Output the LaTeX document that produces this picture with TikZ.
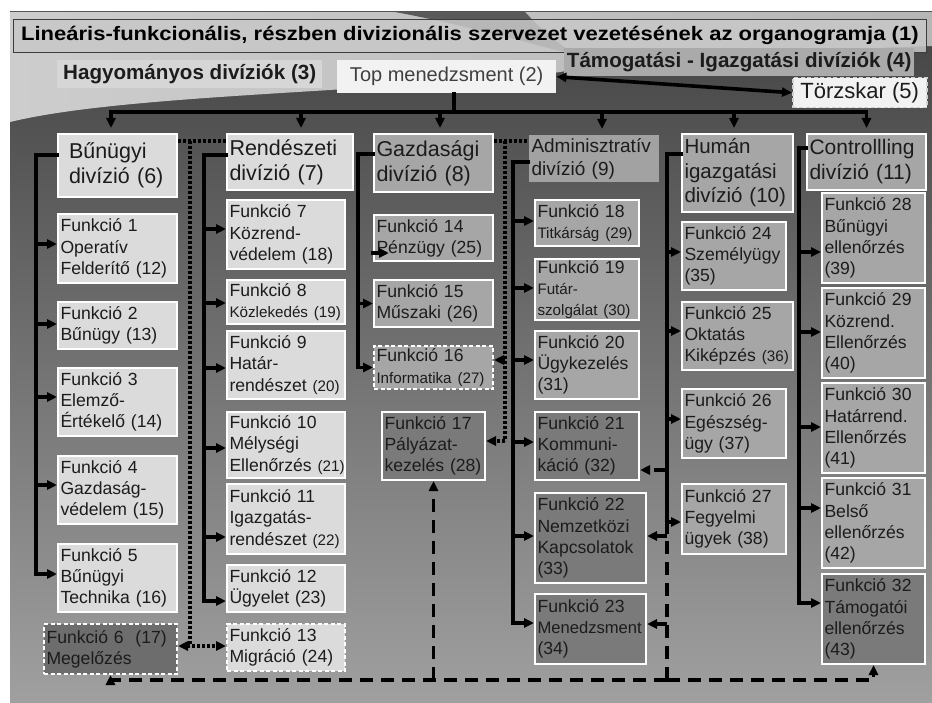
\documentclass[tikz,border=0pt]{standalone}
\usepackage{fontspec}
\setmainfont{Liberation Sans}
\usepackage{graphicx}
\usetikzlibrary{arrows.meta,calc}
\definecolor{lg}{HTML}{DBDBDB}
\definecolor{mg}{HTML}{A6A6A6}
\definecolor{admbg}{HTML}{A2A2A2}
\definecolor{dg}{HTML}{7A7A7A}
\definecolor{dk}{HTML}{6D6D6D}
\definecolor{tx}{HTML}{1C1C1C}
\definecolor{bgtop}{HTML}{434343}
\definecolor{bgbot}{HTML}{A0A0A0}
\definecolor{bglight}{HTML}{B6B6B6}
\definecolor{bglighttwo}{HTML}{CDCDCD}
\definecolor{swoosh}{HTML}{5A5A5A}
\definecolor{titlebg}{HTML}{C8C8C8}
\definecolor{titlebdr}{HTML}{3C3C3C}
\definecolor{tambg}{HTML}{AAAAAA}
\definecolor{hagbg}{HTML}{D6D6D6}
\definecolor{topbg}{HTML}{F2F2F2}
\definecolor{toptx}{HTML}{404040}
\definecolor{tkbdr}{HTML}{D0D0D0}
\newcommand\fnA{\fontsize{17.6pt}{21.3pt}\selectfont}
\newcommand\fnS{\fontsize{15.2pt}{18pt}\selectfont}
\newcommand\fnM{\fontsize{16.6pt}{20pt}\selectfont}
\newcommand\fnD{\fontsize{21.5pt}{25pt}\selectfont}
\newcommand\fnH{\fontsize{20.5pt}{24.5pt}\selectfont}
\newcommand\fnAd{\fontsize{19pt}{23pt}\selectfont}
% box: name, x1, y1, x2, y2, style, text
\newcommand\bx[7]{%
  \pgfmathsetmacro\bxw{#4-#2}\pgfmathsetmacro\bxh{#5-#3}\pgfmathsetmacro\bxt{#4-#2-5}%
  \node[box,#6,minimum width=\bxw pt,minimum height=\bxh pt,text width=\bxt pt] (#1) at (#2,#3) {#7};}
% branch arrow: spine, node, yshift, extra style
\newcommand\brr[4]{\path ([yshift=#3pt]#2.west) coordinate (#2w); \draw[ln,arr,#4] (#1 |- #2w) -- (#2w);}
\begin{document}
\begin{tikzpicture}[x=1pt,y=-1pt,
  box/.style={draw=white,line width=2pt,anchor=north west,inner xsep=2.5pt,inner ysep=0pt,align=left,text=tx,font=\fnA},
  dbox/.style={dash pattern=on 4pt off 2.5pt},
  hdr/.style={anchor=north west,inner sep=0pt,text=tx},
  ln/.style={line width=3.2pt,line cap=rect,line join=miter},
  arr/.style={-{Triangle[length=10pt,width=9pt]}},
  barr/.style={{Triangle[length=10pt,width=9pt]}-{Triangle[length=10pt,width=9pt]}},
  dot/.style={line width=3.2pt,dash pattern=on 3pt off 2pt},
  dsh/.style={line width=3.2pt,dash pattern=on 13pt off 8pt},
]
% background
\fill[white] (0,0) rectangle (932,703);
\shade[top color=bgtop,bottom color=bgbot] (10,12) rectangle (932,703);
\shade[left color=bglighttwo,right color=bglight] (10,12) -- (932,12) -- (932,46)
  .. controls (760,52) and (640,58) .. (560,72)
  .. controls (470,86) and (380,86) .. (330,90)
  .. controls (200,98) and (80,105) .. (10,122) -- cycle;
\fill[swoosh] (395,12) -- (525,12) .. controls (540,28) and (555,42) .. (578,56)
  .. controls (540,46) and (470,26) .. (395,12) -- cycle;

% header
\node[hdr,minimum width=913pt,minimum height=33pt,draw=titlebdr,line width=.8pt,fill=titlebg,fill opacity=.85,text opacity=1,text=black] (title) at (13,19)
  {\scalebox{1.13}[1]{\fontsize{19.5pt}{22pt}\selectfont\bfseries Lineáris-funkcionális, részben divizionális szervezet vezetésének az organogramja (1)}};
\node[hdr,minimum width=265pt,minimum height=28pt,fill=hagbg,font=\fontsize{20.6pt}{24pt}\selectfont\bfseries] (hag) at (57,60) {Hagyományos divíziók (3)};
\node[hdr,minimum width=219pt,minimum height=33pt,fill=topbg,text=toptx,font=\fontsize{20pt}{23pt}\selectfont] (top) at (337,60) {Top menedzsment (2)};
\node[hdr,minimum width=350pt,minimum height=28pt,fill=tambg,font=\fontsize{20.6pt}{24pt}\selectfont\bfseries] (tam) at (564,48) {Támogatási - Igazgatási divíziók (4)};
\node[hdr,minimum width=134pt,minimum height=30pt,fill=topbg,draw=tkbdr,line width=1.5pt,dbox,font=\fontsize{22pt}{25pt}\selectfont] (tk) at (792,77) {Törzskar (5)};

% divisions
\bx{d6}{57}{133}{176}{196}{fill=lg,font=\fnD}{\hspace*{8.5pt}Bűnügyi\\\hspace*{8.5pt}divízió~(6)}
\bx{d7}{226}{133}{352}{189}{fill=lg,font=\fnD}{Rendészeti\\divízió~(7)}
\bx{d8}{373}{133}{492}{191}{fill=mg,font=\fnD}{Gazdasági\\divízió~(8)}
\bx{d9}{528}{134}{658}{181}{fill=admbg,draw=none,font=\fnAd}{Adminisztratív\\divízió~(9)}
\bx{d10}{681}{133}{792}{211}{fill=mg,font=\fnH}{Humán\\igazgatási\\divízió~(10)}
\bx{d11}{806}{133}{925}{189}{fill=mg,font=\fontsize{21pt}{25pt}\selectfont}{Controllling\\divízió~(11)}

% column 1
\bx{f1}{57}{213}{176}{282}{fill=lg}{Funkció~1\\Operatív\\Felderítő~(12)}
\bx{f2}{57}{301}{176}{348}{fill=lg}{Funkció~2\\Bűnügy~(13)}
\bx{f3}{57}{367}{176}{435}{fill=lg}{Funkció~3\\Elemző-\\Értékelő~(14)}
\bx{f4}{57}{455}{176}{523}{fill=lg}{Funkció~4\\Gazdaság-\\védelem~(15)}
\bx{f5}{57}{543}{176}{611}{fill=lg}{Funkció~5\\Bűnügyi\\Technika~(16)}
\bx{f6}{43}{623}{176}{673}{fill=dk,dbox}{Funkció~6\ \ (17)\\Megelőzés}
% column 2
\bx{f7}{226}{199}{344}{268}{fill=lg}{Funkció~7\\Közrend-\\védelem~(18)}
\bx{f8}{226}{279}{344}{323}{fill=lg}{Funkció~8\\{\fnS Közlekedés~(19)}}
\bx{f9}{226}{330}{344}{398}{fill=lg}{Funkció~9\\Határ-\\rendészet~{\fnS(20)}}
\bx{f10}{226}{411}{344}{477}{fill=lg}{Funkció~10\\Mélységi\\Ellenőrzés~{\fnS(21)}}
\bx{f11}{226}{483}{344}{553}{fill=lg}{Funkció~11\\Igazgatás-\\rendészet~{\fnS(22)}}
\bx{f12}{226}{564}{344}{611}{fill=lg}{Funkció~12\\Ügyelet~(23)}
\bx{f13}{226}{623}{344}{670}{fill=lg,dbox}{Funkció~13\\Migráció~(24)}
% column 3
\bx{f14}{373}{214}{492}{260}{fill=mg}{Funkció~14\\Pénzügy~(25)}
\bx{f15}{373}{279}{492}{326}{fill=mg}{Funkció~15\\Műszaki~(26)}
\bx{f16}{373}{345}{492}{388}{fill=mg,dbox}{Funkció~16\\{\fnS Informatika~(27)}}
\bx{f17}{381}{411}{484}{479}{fill=dg}{Funkció~17\\Pályázat-\\kezelés~(28)}
% column 4
\bx{f18}{534}{199}{638}{245}{fill=mg}{Funkció~18\\{\fnS Titkárság~(29)}}
\bx{f19}{534}{258}{638}{319}{fill=mg}{Funkció~19\\{\fnS Futár-}\\{\fnS szolgálat~(30)}}
\bx{f20}{534}{330}{638}{398}{fill=mg}{Funkció~20\\Ügykezelés\\(31)}
\bx{f21}{534}{411}{638}{479}{fill=dg}{Funkció~21\\Kommuni-\\káció~(32)}
\bx{f22}{534}{492}{645}{582}{fill=dg}{Funkció~22\\Nemzetközi\\Kapcsolatok\\(33)}
\bx{f23}{534}{593}{645}{663}{fill=dg}{Funkció~23\\{\fnM Menedzsment}\\(34)}
% column 5
\bx{f24}{681}{221}{785}{289}{fill=mg}{Funkció~24\\Személyügy\\(35)}
\bx{f25}{681}{301}{792}{369}{fill=mg}{Funkció~25\\Oktatás\\Kiképzés~{\fnS(36)}}
\bx{f26}{681}{388}{785}{457}{fill=mg}{Funkció~26\\Egészség-\\ügy~(37)}
\bx{f27}{681}{483}{785}{553}{fill=mg}{Funkció~27\\Fegyelmi\\ügyek~(38)}
% column 6
\bx{f28}{821}{192}{924}{282}{fill=mg}{Funkció~28\\Bűnügyi\\ellenőrzés\\(39)}
\bx{f29}{821}{287}{924}{377}{fill=mg}{Funkció~29\\Közrend.\\Ellenőrzés\\(40)}
\bx{f30}{821}{382}{924}{472}{fill=mg}{Funkció~30\\Határrend.\\Ellenőrzés\\(41)}
\bx{f31}{821}{477}{924}{567}{fill=mg}{Funkció~31\\Belső\\ellenőrzés\\(42)}
\bx{f32}{821}{573}{924}{663}{fill=dg}{Funkció~32\\Támogatói\\ellenőrzés\\(43)}

% top connectors
\draw[line width=3.6pt,barr] (top.east) -- (tk.west);
\coordinate (bus) at (454,112);
\path ([xshift=-6.5pt]d6.north) coordinate (d6n);
\path ([xshift=11pt]d7.north) coordinate (d7n);
\path ([xshift=6.5pt]d8.north) coordinate (d8n);
\path ([xshift=8pt]d9.north) coordinate (d9n);
\path ([xshift=-3.5pt]d10.north) coordinate (d10n);
\path (d11.north) coordinate (d11n);
\draw[ln] (top.south -| bus) -- (bus);
\draw[ln] (bus -| d6n) -- (bus -| d11n);
\foreach \n in {d6n,d7n,d8n,d9n,d10n,d11n}
  \draw[ln,arr,shorten >=5pt] (bus -| \n) -- (\n);

% spines
\coordinate (s6) at (36,155);
\coordinate (s7) at (204,155);
\coordinate (s8) at (358,154);
\coordinate (s9) at (513,162);
\coordinate (s10) at (667,154);
\coordinate (s11) at (799,148);

\brr{s6}{f1}{4.5}{} \brr{s6}{f2}{1.5}{} \brr{s6}{f3}{5}{} \brr{s6}{f4}{5}{} \brr{s6}{f5}{4}{}
\draw[ln] (s6 -| d6.west) -- (s6) -- (s6 |- f5w);
\brr{s7}{f7}{5.5}{} \brr{s7}{f8}{-1}{} \brr{s7}{f9}{-3}{} \brr{s7}{f10}{-3}{} \brr{s7}{f11}{-18}{} \brr{s7}{f12}{-12.5}{}
\draw[ln] (s7 -| d7.west) -- (s7) -- (s7 |- f12w);
\brr{s8}{f15}{0}{} \brr{s8}{f16}{0}{}
\draw[ln] (s8 -| d8.west) -- (s8) -- (s8 |- f16w);
\path ([yshift=-15pt]f14.west) coordinate (f14w);
\draw[ln,arr] (f14w) -- ++(16,0);
\brr{s9}{f18}{2}{} \brr{s9}{f19}{1.5}{} \brr{s9}{f20}{5}{} \brr{s9}{f21}{4}{} \brr{s9}{f22}{2}{} \brr{s9}{f23}{6}{}
\draw[ln] (s9 -| d9.west) -- (s9) -- (s9 |- f23w);
\brr{s10}{f24}{4}{} \brr{s10}{f25}{5}{} \brr{s10}{f26}{4.5}{} \brr{s10}{f27}{-3}{}
\draw[ln] (s10 -| d10.west) -- (s10) -- ([yshift=-10pt]s10 |- f27w);
\brr{s11}{f28}{-14}{} \brr{s11}{f29}{1}{} \brr{s11}{f30}{1}{} \brr{s11}{f31}{15}{} \brr{s11}{f32}{16}{}
\draw[ln] (s11 -| d11.west) -- (s11) -- (s11 |- f32w);

% dotted links
\coordinate (b1) at (190,141);
\draw[dot] (b1 -| d6.east) -- (b1 -| d7.west);
\path ([yshift=3pt]f6.east) coordinate (f6e);
\draw[dot] (b1) -- (b1 |- f6e);
\draw[dot,barr] (f6e) -- (f6e -| f13.west);
\coordinate (g1) at (505,141);
\draw[dot] (g1 -| d8.east) -- (g1 -| d9.west);
\path ([yshift=7.5pt]f16.east) coordinate (f16e);
\path ([yshift=5pt]f17.east) coordinate (f17e);
\draw[dot] (g1) -- (g1 |- f17e);
\draw[dot,arr] (g1 |- f16e) -- (f16e);
\draw[dot,arr] (g1 |- f17e) -- (f17e);

% dashed links
\path ([yshift=-24pt]f21.east) coordinate (f21e);
\path ([yshift=2pt]f22.east) coordinate (f22e);
\path ([yshift=5pt]f23.east) coordinate (f23e);
\coordinate (hb) at (667,680);
\draw[dsh,arr] (s10 |- f21e) -- (f21e);
\draw[dsh] (hb) -- (hb |- f22e);
\draw[dsh,arr] (hb |- f22e) -- (f22e);
\draw[dsh,arr] (hb |- f23e) -- (f23e);
\draw[dsh,arr] (hb) -| (f6.south);
\draw[dsh,arr] (hb) -| (f32.south);
\draw[dsh,arr] (f17.south |- hb) -- (f17.south);
\end{tikzpicture}
\end{document}
